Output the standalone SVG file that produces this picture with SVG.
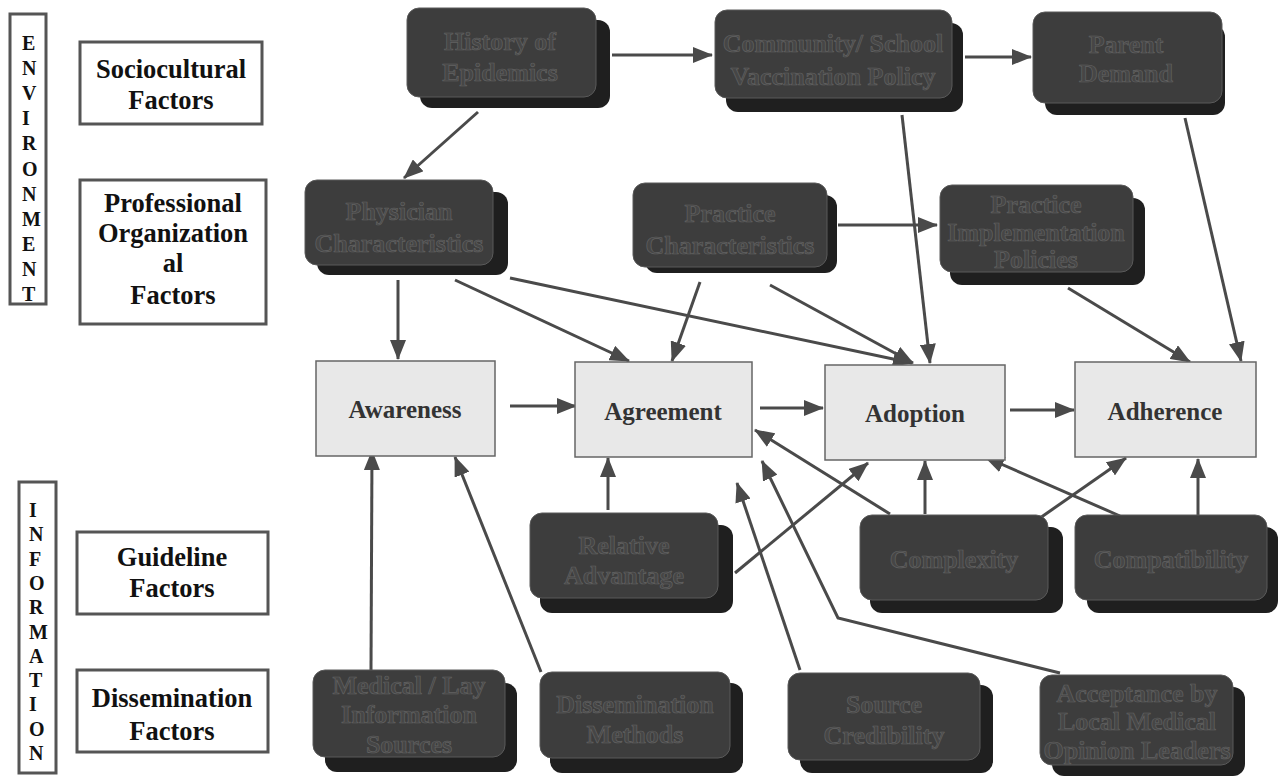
<svg xmlns="http://www.w3.org/2000/svg" width="1278" height="776" viewBox="0 0 1278 776">
<defs>
<marker id="ah" markerUnits="userSpaceOnUse" viewBox="0 0 20 16" markerWidth="20" markerHeight="16" refX="19" refY="8" orient="auto">
<path d="M0,0 L20,8 L0,16 z" fill="#4a4a4a"/>
</marker>
</defs>
<style>
.lbl{fill:#fff;stroke:#555;stroke-width:3}
.lt{font-family:"Liberation Serif","Times New Roman",serif;font-weight:bold;font-size:26.5px;fill:#111;text-anchor:middle}
.vt{font-family:"Liberation Serif","Times New Roman",serif;font-weight:bold;font-size:20px;fill:#111}
.back{fill:#1f1f1f}
.front{fill:#3d3d3d;stroke:#5a5a5a;stroke-width:1}
.dt{font-family:"Liberation Serif","Times New Roman",serif;font-weight:bold;font-size:26px;fill:#464646;stroke:#626262;stroke-width:0.7;text-anchor:middle}
.proc{fill:#e8e8e8;stroke:#666;stroke-width:1.5}
.pt{font-family:"Liberation Serif","Times New Roman",serif;font-weight:bold;font-size:25px;fill:#333;text-anchor:middle}
.conn{stroke:#4a4a4a;stroke-width:3;fill:none;marker-end:url(#ah)}
</style>
<rect width="1278" height="776" fill="#fff"/>

<g id="environment">
<rect class="lbl" x="10" y="14" width="36" height="290"/>
<text class="vt" x="22" y="50">E</text>
<text class="vt" x="22" y="75">N</text>
<text class="vt" x="22" y="100">V</text>
<text class="vt" x="22" y="125">I</text>
<text class="vt" x="22" y="150">R</text>
<text class="vt" x="22" y="176">O</text>
<text class="vt" x="22" y="201">N</text>
<text class="vt" x="22" y="226">M</text>
<text class="vt" x="22" y="251">E</text>
<text class="vt" x="22" y="276">N</text>
<text class="vt" x="22" y="301">T</text>
</g>
<g id="information">
<rect class="lbl" x="19" y="482" width="37" height="291"/>
<text class="vt" x="29" y="517">I</text>
<text class="vt" x="29" y="541">N</text>
<text class="vt" x="29" y="566">F</text>
<text class="vt" x="29" y="590">O</text>
<text class="vt" x="29" y="614">R</text>
<text class="vt" x="29" y="639">M</text>
<text class="vt" x="29" y="663">A</text>
<text class="vt" x="29" y="687">T</text>
<text class="vt" x="29" y="711">I</text>
<text class="vt" x="29" y="736">O</text>
<text class="vt" x="29" y="760">N</text>
</g>
<g id="sociocultural">
<rect class="lbl" x="80" y="42" width="182" height="82"/>
<text class="lt" x="171" y="78">Sociocultural</text>
<text class="lt" x="171" y="109">Factors</text>
</g>
<g id="professional">
<rect class="lbl" x="80" y="180" width="186" height="144"/>
<text class="lt" x="173" y="212">Professional</text>
<text class="lt" x="173" y="242">Organization</text>
<text class="lt" x="173" y="272">al</text>
<text class="lt" x="173" y="304">Factors</text>
</g>
<g id="guideline">
<rect class="lbl" x="77" y="532" width="191" height="82"/>
<text class="lt" x="172" y="566">Guideline</text>
<text class="lt" x="172" y="597">Factors</text>
</g>
<g id="dissemination">
<rect class="lbl" x="77" y="670" width="191" height="82"/>
<text class="lt" x="172" y="707">Dissemination</text>
<text class="lt" x="172" y="740">Factors</text>
</g>

<g id="connectors">
<line class="conn" x1="612" y1="55" x2="712" y2="55"/>
<line class="conn" x1="965" y1="57" x2="1031" y2="57"/>
<line class="conn" x1="478" y1="112" x2="404" y2="178"/>
<line class="conn" x1="398" y1="280" x2="398" y2="359"/>
<line class="conn" x1="455" y1="280" x2="629" y2="361"/>
<line class="conn" x1="510" y1="278" x2="912" y2="363"/>
<line class="conn" x1="700" y1="282" x2="672" y2="361"/>
<line class="conn" x1="770" y1="285" x2="913" y2="363"/>
<line class="conn" x1="838" y1="225" x2="937" y2="225"/>
<line class="conn" x1="902" y1="115" x2="930" y2="363"/>
<line class="conn" x1="1068" y1="288" x2="1190" y2="362"/>
<line class="conn" x1="1185" y1="118" x2="1241" y2="361"/>
<line class="conn" x1="510" y1="406" x2="576" y2="406"/>
<line class="conn" x1="760" y1="408" x2="823" y2="408"/>
<line class="conn" x1="1010" y1="410" x2="1074" y2="410"/>
<line class="conn" x1="608" y1="510" x2="608" y2="458"/>
<line class="conn" x1="735" y1="573" x2="868" y2="463"/>
<line class="conn" x1="890" y1="514" x2="755" y2="430"/>
<line class="conn" x1="925" y1="514" x2="925" y2="461"/>
<line class="conn" x1="1040" y1="518" x2="1126" y2="458"/>
<line class="conn" x1="1120" y1="516" x2="985" y2="457"/>
<line class="conn" x1="1198" y1="515" x2="1198" y2="459"/>
<line class="conn" x1="371" y1="670" x2="372" y2="451"/>
<line class="conn" x1="541" y1="672" x2="455" y2="457"/>
<line class="conn" x1="800" y1="670" x2="737" y2="483"/>
<polyline class="conn" points="1060,673 838,618 762,461"/>
</g>

<g id="awareness"><rect class="proc" x="316" y="361" width="179" height="95"/><text class="pt" x="405" y="418">Awareness</text></g>
<g id="agreement"><rect class="proc" x="575" y="362" width="177" height="95"/><text class="pt" x="663" y="420">Agreement</text></g>
<g id="adoption"><rect class="proc" x="825" y="365" width="180" height="95"/><text class="pt" x="915" y="422">Adoption</text></g>
<g id="adherence"><rect class="proc" x="1075" y="362" width="181" height="95"/><text class="pt" x="1165" y="420">Adherence</text></g>

<g id="history">
<rect class="back" x="420" y="20" width="190" height="88" rx="12"/>
<rect class="front" x="407" y="8" width="189" height="89" rx="12"/>
<text class="dt" x="500" y="50">History of</text>
<text class="dt" x="500" y="81">Epidemics</text>
</g>
<g id="community">
<rect class="back" x="726" y="23" width="237" height="89" rx="12"/>
<rect class="front" x="715" y="10" width="237" height="88" rx="12"/>
<text class="dt" x="833" y="52">Community/ School</text>
<text class="dt" x="833" y="85">Vaccination Policy</text>
</g>
<g id="parent">
<rect class="back" x="1045" y="25" width="180" height="90" rx="12"/>
<rect class="front" x="1033" y="12" width="189" height="91" rx="12"/>
<text class="dt" x="1126" y="53">Parent</text>
<text class="dt" x="1126" y="82">Demand</text>
</g>
<g id="physician">
<rect class="back" x="317" y="192" width="191" height="83" rx="12"/>
<rect class="front" x="305" y="180" width="188" height="85" rx="12"/>
<text class="dt" x="399" y="220">Physician</text>
<text class="dt" x="399" y="252">Characteristics</text>
</g>
<g id="practice">
<rect class="back" x="645" y="195" width="192" height="78" rx="12"/>
<rect class="front" x="633" y="183" width="194" height="84" rx="12"/>
<text class="dt" x="730" y="222">Practice</text>
<text class="dt" x="730" y="254">Characteristics</text>
</g>
<g id="policies">
<rect class="back" x="950" y="198" width="195" height="87" rx="12"/>
<rect class="front" x="940" y="185" width="193" height="87" rx="12"/>
<text class="dt" x="1036" y="213">Practice</text>
<text class="dt" x="1036" y="241">Implementation</text>
<text class="dt" x="1036" y="268">Policies</text>
</g>
<g id="relative">
<rect class="back" x="540" y="525" width="193" height="88" rx="12"/>
<rect class="front" x="530" y="513" width="188" height="85" rx="12"/>
<text class="dt" x="624" y="554">Relative</text>
<text class="dt" x="624" y="584">Advantage</text>
</g>
<g id="complexity">
<rect class="back" x="870" y="527" width="193" height="86" rx="12"/>
<rect class="front" x="860" y="515" width="188" height="85" rx="12"/>
<text class="dt" x="954" y="568">Complexity</text>
</g>
<g id="compatibility">
<rect class="back" x="1087" y="527" width="191" height="86" rx="12"/>
<rect class="front" x="1075" y="515" width="192" height="85" rx="12"/>
<text class="dt" x="1171" y="568">Compatibility</text>
</g>
<g id="medical">
<rect class="back" x="325" y="683" width="192" height="89" rx="12"/>
<rect class="front" x="313" y="670" width="192" height="87" rx="12"/>
<text class="dt" x="409" y="694">Medical / Lay</text>
<text class="dt" x="409" y="723">Information</text>
<text class="dt" x="409" y="753">Sources</text>
</g>
<g id="methods">
<rect class="back" x="550" y="683" width="193" height="90" rx="12"/>
<rect class="front" x="540" y="672" width="190" height="86" rx="12"/>
<text class="dt" x="635" y="713">Dissemination</text>
<text class="dt" x="635" y="743">Methods</text>
</g>
<g id="credibility">
<rect class="back" x="800" y="685" width="193" height="88" rx="12"/>
<rect class="front" x="788" y="673" width="192" height="87" rx="12"/>
<text class="dt" x="884" y="713">Source</text>
<text class="dt" x="884" y="744">Credibility</text>
</g>
<g id="acceptance">
<rect class="back" x="1052" y="687" width="193" height="89" rx="12"/>
<rect class="front" x="1040" y="675" width="193" height="90" rx="12"/>
<text class="dt" x="1137" y="702">Acceptance by</text>
<text class="dt" x="1137" y="730">Local Medical</text>
<text class="dt" x="1137" y="759">Opinion Leaders</text>
</g>
</svg>
